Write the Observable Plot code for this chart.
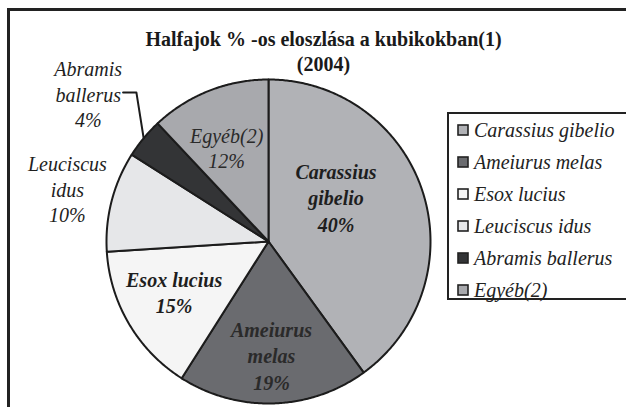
<!DOCTYPE html>
<html><head><meta charset="utf-8">
<script src="https://cdn.jsdelivr.net/npm/d3@7"></script>
<script src="https://cdn.jsdelivr.net/npm/@observablehq/plot@0.6"></script>
<style>
html,body{margin:0;padding:0;background:#fff;overflow:hidden}
#wrap{position:relative;width:626px;height:407px;overflow:hidden;font-family:"Liberation Serif","DejaVu Serif",serif}
#frame{position:absolute;left:7px;top:8px;width:700px;height:500px;border-left:3px solid #222;border-top:3px solid #222}
#chart{position:absolute;left:0;top:0}
#chart svg, #chart svg text{font-family:"Liberation Serif","DejaVu Serif",serif !important}
#legend{position:absolute;left:447px;top:112px;width:220px;height:184px;border:2px solid #222;background:#fff;box-sizing:content-box}
#legend .lg-swatches{font-family:"Liberation Serif","DejaVu Serif",serif !important;font-size:20px !important;font-style:italic;color:#222;margin:0 !important;padding:0 0 0 9px !important;columns:1 !important;}
#legend .lg-swatch{height:32px !important;display:flex !important;align-items:center !important;padding:0 !important;margin:0 !important}
#legend .lg-swatch > svg{margin-right:6px !important;overflow:visible !important;flex-shrink:0}
#legend .lg-swatch rect{stroke:#222;stroke-width:1.6px}
#legend .lg-swatch-label{white-space:nowrap;overflow:visible !important;font-family:"Liberation Serif","DejaVu Serif",serif !important}
</style></head>
<body><div id="wrap"><div id="frame"></div><div id="chart"></div><div id="legend"></div></div>
<script>
// ---- data ----
const species = ["Carassius gibelio","Ameiurus melas","Esox lucius","Leuciscus idus","Abramis ballerus","Egyéb(2)"];
const percents = [40,19,15,10,4,12];
const sliceLabels = ["Carassius\ngibelio\n40%","Ameiurus\nmelas\n19%","Esox lucius\n15%","Leuciscus\nidus\n10%","Abramis\nballerus\n4%","Egyéb(2)\n12%"];
const colors = ["#b1b2b6","#6a6b6f","#f5f5f5","#e6e7e9","#333436","#a8a9ad"];
const titleLines = ["Halfajok % -os eloszlása a kubikokban(1)","(2004)"];

// ---- layout (not data) ----
const FONT = "'Liberation Serif','DejaVu Serif',serif";
const cx = 268, cy = 241, R = 162;
const labelRadius = [0.50, 0.70, 0.66, 1.284, 1.44, 0.635];
const labelShiftDeg = [-15.5, 0.3, 2.6, 0.4, -0.2, -2.4];
const labelBold = [true, true, true, false, false, false];
const labelColor = ["#1e1e1e","#2a2a2a","#1e1e1e","#1e1e1e","#1e1e1e","#2a2a2a"];
const leaderIndex = 4;

// ---- geometry from data ----
const arcs = d3.pie().sort(null).value(d => d)(percents);
const slicePts = [];
arcs.forEach((a, i) => {
  slicePts.push({s: species[i], x: 0, y: 0});
  const n = Math.max(2, Math.ceil((a.endAngle - a.startAngle) / (Math.PI / 360)));
  for (let k = 0; k <= n; k++) {
    const t = a.startAngle + (a.endAngle - a.startAngle) * k / n;
    slicePts.push({s: species[i], x: Math.sin(t), y: Math.cos(t)});
  }
});
const labels = arcs.map((a, i) => {
  const m = (a.startAngle + a.endAngle) / 2 + labelShiftDeg[i] * Math.PI / 180;
  return {i, text: sliceLabels[i], x: labelRadius[i] * Math.sin(m), y: labelRadius[i] * Math.cos(m), color: labelColor[i]};
});
const la = arcs[leaderIndex], lm = (la.startAngle + la.endAngle) / 2;
const endX = Math.sin(lm) * 1.0, endY = Math.cos(lm) * 1.0;
const lb = labels[leaderIndex];
const leader = [
  {x: lb.x + 0.215, y: lb.y + 0.006},
  {x: endX - 0.045, y: lb.y + 0.006},
  {x: endX, y: endY}
];

const chart = Plot.plot({
  width: 626, height: 407,
  margin: 0,
  style: {background: "transparent", fontFamily: FONT, overflow: "visible"},
  x: {domain: [-1, 1], range: [cx - R, cx + R], axis: null},
  y: {domain: [-1, 1], range: [cy + R, cy - R], axis: null},
  color: {domain: species, range: colors},
  marks: [
    Plot.line(slicePts, {x: "x", y: "y", z: "s", fill: "s", stroke: "#1c1c1c", strokeWidth: 2, strokeLinejoin: "round", curve: "linear-closed"}),
    Plot.line(leader, {x: "x", y: "y", stroke: "#1c1c1c", strokeWidth: 2}),
    Plot.text(labels.filter(d => labelBold[d.i]), {x: "x", y: "y", text: "text", fill: "color", fontFamily: FONT, fontSize: 20, fontWeight: "bold", fontStyle: "italic", lineHeight: 1.33, lineAnchor: "middle", textAnchor: "middle"}),
    Plot.text(labels.filter(d => !labelBold[d.i]), {x: "x", y: "y", text: "text", fill: "color", fontFamily: FONT, fontSize: 20, fontStyle: "italic", lineHeight: 1.27, lineAnchor: "middle", textAnchor: "middle"}),
    Plot.text([titleLines.join("\n")], {frameAnchor: "top", dx: 10, dy: 28, text: d => d, fontFamily: FONT, fontSize: 20, fontWeight: "bold", fill: "#1a1a1a", lineAnchor: "top", lineHeight: 1.25, textAnchor: "middle"})
  ]
});
document.getElementById("chart").appendChild(chart);

const legend = Plot.legend({
  color: {type: "ordinal", domain: species, range: colors},
  legend: "swatches", columns: 1, swatchSize: 10, className: "lg"
});
document.getElementById("legend").appendChild(legend);
</script>
</body></html>
